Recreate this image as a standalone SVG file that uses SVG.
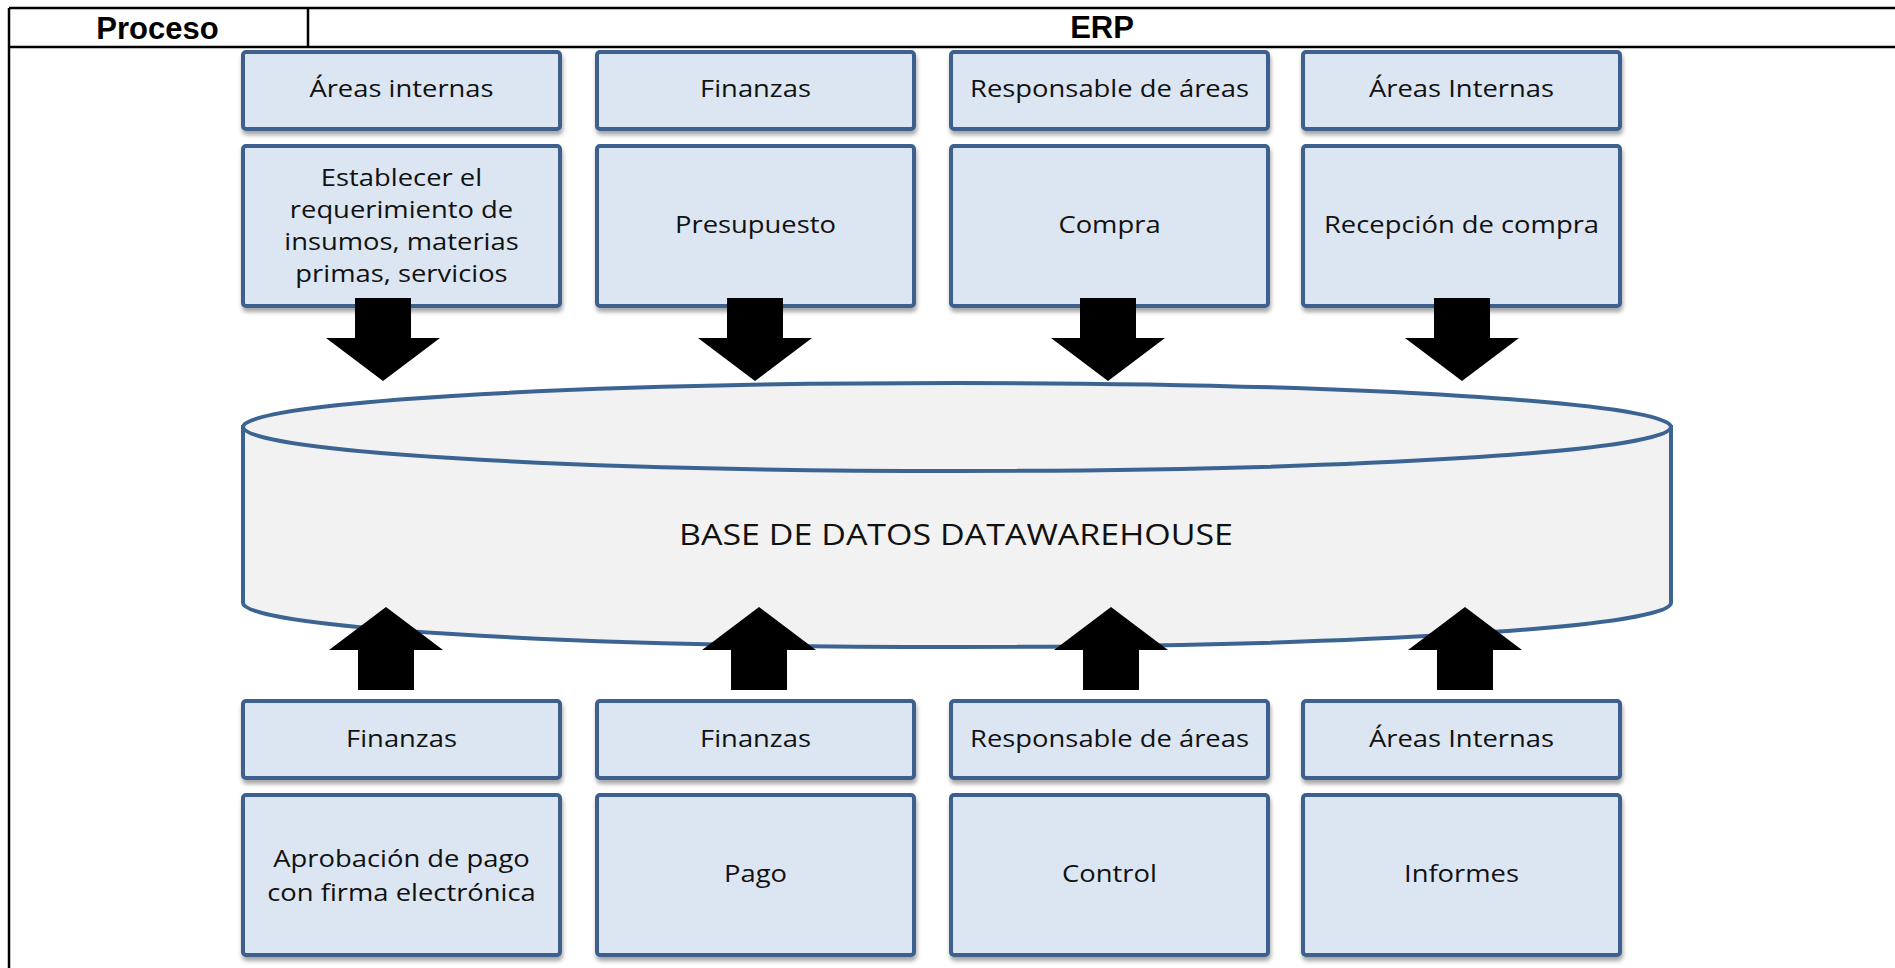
<svg xmlns="http://www.w3.org/2000/svg" width="1895" height="968" viewBox="0 0 1895 968">
  <style>
    .box { fill: #dce6f2; stroke: #3c618f; stroke-width: 4; filter: url(#shadow); }
    .lbl { font-family: "Open Sans", "Liberation Sans", sans-serif; font-size: 23.5px; fill: #111; text-anchor: middle; }
    .hdr { font-family: "Liberation Sans", Arial, sans-serif; font-size: 31px; font-weight: bold; fill: #000; text-anchor: middle; }
    .grid { stroke: #000; stroke-width: 2.5; fill: none; }
    .db { fill: #f2f2f2; stroke: #3b6493; stroke-width: 4; }
    .dbtxt { font-family: "Open Sans", "Liberation Sans", sans-serif; font-size: 30px; fill: #111; text-anchor: middle; }
    .arrow { fill: #000; }
  </style>
  <defs>
    <filter id="shadow" x="-5%" y="-10%" width="110%" height="130%">
      <feDropShadow dx="1" dy="4" stdDeviation="2" flood-color="#000" flood-opacity="0.35"/>
    </filter>
    <!-- block arrows, tip at the origin -->
    <path id="arrow-down" d="M-28,-83 H28 V-43 H57 L0,0 L-57,-43 H-28 Z"/>
    <path id="arrow-up" d="M0,0 L57,43 H28 V83 H-28 V43 H-57 Z"/>
  </defs>

  <rect width="1895" height="968" fill="#fff"/>

  <!-- table frame -->
  <g id="table">
    <line class="grid" x1="9" y1="8" x2="1895" y2="8"/>
    <line class="grid" x1="9" y1="47" x2="1895" y2="47"/>
    <line class="grid" x1="9" y1="8" x2="9" y2="968"/>
    <line class="grid" x1="308" y1="8" x2="308" y2="47"/>
    <text class="hdr" x="157.5" y="38.5">Proceso</text>
    <text class="hdr" x="1102" y="38">ERP</text>
  </g>

  <!-- data warehouse -->
  <g id="datawarehouse">
    <path class="db" d="M243,427 V603 A714,44 0 0 0 1671,603 V427 Z"/>
    <ellipse class="db" cx="957" cy="427" rx="714" ry="44"/>
    <text class="dbtxt" x="956" y="545" textLength="554" lengthAdjust="spacingAndGlyphs">BASE DE DATOS DATAWAREHOUSE</text>
  </g>

  <!-- upper row: responsible areas -->
  <g id="top-area-1">
    <rect class="box" x="243" y="52" width="317" height="77" rx="3"/>
    <g transform="translate(401.5 0) scale(1.165 1)"><text class="lbl" x="0" y="97">Áreas internas</text></g>
  </g>
  <g id="top-area-2">
    <rect class="box" x="597" y="52" width="317" height="77" rx="3"/>
    <g transform="translate(755.5 0) scale(1.165 1)"><text class="lbl" x="0" y="97">Finanzas</text></g>
  </g>
  <g id="top-area-3">
    <rect class="box" x="951" y="52" width="317" height="77" rx="3"/>
    <g transform="translate(1109.5 0) scale(1.165 1)"><text class="lbl" x="0" y="97">Responsable de áreas</text></g>
  </g>
  <g id="top-area-4">
    <rect class="box" x="1303" y="52" width="317" height="77" rx="3"/>
    <g transform="translate(1461.5 0) scale(1.165 1)"><text class="lbl" x="0" y="97">Áreas Internas</text></g>
  </g>

  <!-- upper row: activities -->
  <g id="top-task-1">
    <rect class="box" x="243" y="146" width="317" height="160" rx="3"/>
    <g transform="translate(401.5 0) scale(1.165 1)">
      <text class="lbl" x="0" y="186">Establecer el</text>
      <text class="lbl" x="0" y="218">requerimiento de</text>
      <text class="lbl" x="0" y="250">insumos, materias</text>
      <text class="lbl" x="0" y="282">primas, servicios</text>
    </g>
  </g>
  <g id="top-task-2">
    <rect class="box" x="597" y="146" width="317" height="160" rx="3"/>
    <g transform="translate(755.5 0) scale(1.165 1)"><text class="lbl" x="0" y="233">Presupuesto</text></g>
  </g>
  <g id="top-task-3">
    <rect class="box" x="951" y="146" width="317" height="160" rx="3"/>
    <g transform="translate(1109.5 0) scale(1.165 1)"><text class="lbl" x="0" y="233">Compra</text></g>
  </g>
  <g id="top-task-4">
    <rect class="box" x="1303" y="146" width="317" height="160" rx="3"/>
    <g transform="translate(1461.5 0) scale(1.165 1)"><text class="lbl" x="0" y="233">Recepción de compra</text></g>
  </g>

  <!-- lower row: responsible areas -->
  <g id="bottom-area-1">
    <rect class="box" x="243" y="701" width="317" height="77" rx="3"/>
    <g transform="translate(401.5 0) scale(1.165 1)"><text class="lbl" x="0" y="747">Finanzas</text></g>
  </g>
  <g id="bottom-area-2">
    <rect class="box" x="597" y="701" width="317" height="77" rx="3"/>
    <g transform="translate(755.5 0) scale(1.165 1)"><text class="lbl" x="0" y="747">Finanzas</text></g>
  </g>
  <g id="bottom-area-3">
    <rect class="box" x="951" y="701" width="317" height="77" rx="3"/>
    <g transform="translate(1109.5 0) scale(1.165 1)"><text class="lbl" x="0" y="747">Responsable de áreas</text></g>
  </g>
  <g id="bottom-area-4">
    <rect class="box" x="1303" y="701" width="317" height="77" rx="3"/>
    <g transform="translate(1461.5 0) scale(1.165 1)"><text class="lbl" x="0" y="747">Áreas Internas</text></g>
  </g>

  <!-- lower row: activities -->
  <g id="bottom-task-1">
    <rect class="box" x="243" y="795" width="317" height="160" rx="3"/>
    <g transform="translate(401.5 0) scale(1.165 1)">
      <text class="lbl" x="0" y="867">Aprobación de pago</text>
      <text class="lbl" x="0" y="901">con firma electrónica</text>
    </g>
  </g>
  <g id="bottom-task-2">
    <rect class="box" x="597" y="795" width="317" height="160" rx="3"/>
    <g transform="translate(755.5 0) scale(1.165 1)"><text class="lbl" x="0" y="882">Pago</text></g>
  </g>
  <g id="bottom-task-3">
    <rect class="box" x="951" y="795" width="317" height="160" rx="3"/>
    <g transform="translate(1109.5 0) scale(1.165 1)"><text class="lbl" x="0" y="882">Control</text></g>
  </g>
  <g id="bottom-task-4">
    <rect class="box" x="1303" y="795" width="317" height="160" rx="3"/>
    <g transform="translate(1461.5 0) scale(1.165 1)"><text class="lbl" x="0" y="882">Informes</text></g>
  </g>

  <!-- block arrows into and out of the warehouse -->
  <g id="connectors" class="arrow">
    <use href="#arrow-down" transform="translate(383 381)"/>
    <use href="#arrow-down" transform="translate(755 381)"/>
    <use href="#arrow-down" transform="translate(1108 381)"/>
    <use href="#arrow-down" transform="translate(1462 381)"/>
    <use href="#arrow-up" transform="translate(386 607)"/>
    <use href="#arrow-up" transform="translate(759 607)"/>
    <use href="#arrow-up" transform="translate(1111 607)"/>
    <use href="#arrow-up" transform="translate(1465 607)"/>
  </g>
</svg>
